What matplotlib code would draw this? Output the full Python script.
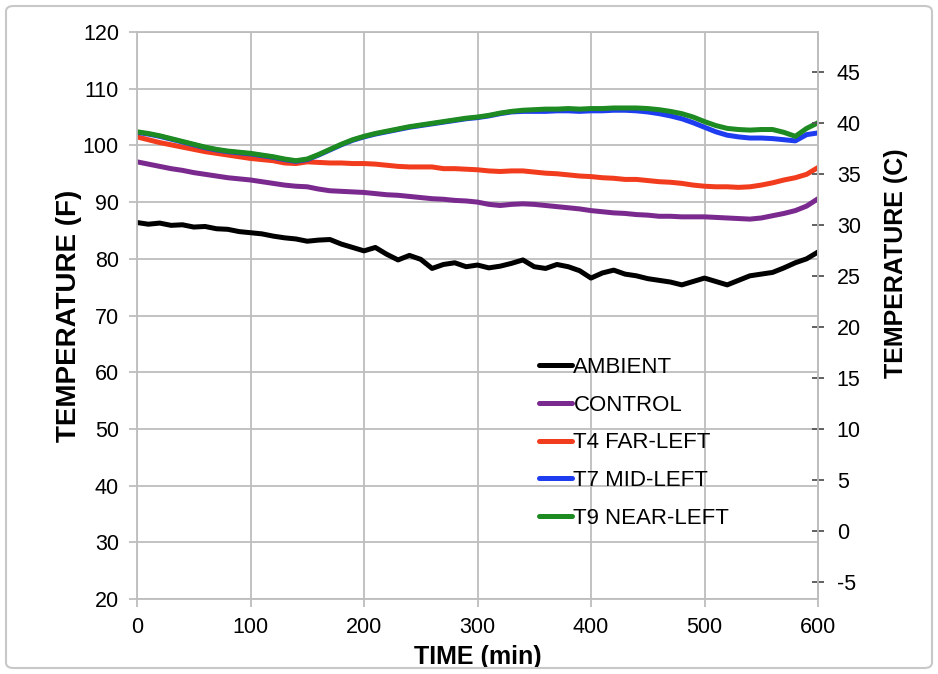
import numpy as np
import matplotlib.pyplot as plt
from matplotlib.patches import FancyBboxPatch

plt.rcParams['font.family'] = ['Liberation Sans', 'DejaVu Sans']
plt.rcParams['axes.unicode_minus'] = False

# time axis, every 10 minutes
time_min = list(range(0, 601, 10))

ambient = [86.4, 86.1, 86.3, 85.9, 86.0, 85.6, 85.7, 85.3, 85.2, 84.8,
           84.6, 84.4, 84.0, 83.7, 83.5, 83.1, 83.3, 83.4, 82.6, 82.0,
           81.4, 82.0, 80.8, 79.8, 80.6, 79.9, 78.3, 79.0, 79.3, 78.6,
           78.9, 78.4, 78.7, 79.2, 79.8, 78.6, 78.3, 79.0, 78.6, 77.9,
           76.6, 77.5, 78.0, 77.3, 77.0, 76.5, 76.2, 75.9, 75.4, 76.0,
           76.6, 76.0, 75.4, 76.2, 77.0, 77.3, 77.6, 78.4, 79.3, 80.0,
           81.2]

control = [97.1, 96.7, 96.3, 95.9, 95.6, 95.2, 94.9, 94.6, 94.3, 94.1,
           93.9, 93.6, 93.3, 93.0, 92.8, 92.7, 92.3, 92.0, 91.9, 91.8,
           91.7, 91.5, 91.3, 91.2, 91.0, 90.8, 90.6, 90.5, 90.3, 90.2,
           90.0, 89.6, 89.4, 89.6, 89.7, 89.6, 89.4, 89.2, 89.0, 88.8,
           88.5, 88.3, 88.1, 88.0, 87.8, 87.7, 87.5, 87.5, 87.4, 87.4,
           87.4, 87.3, 87.2, 87.1, 87.0, 87.2, 87.6, 88.0, 88.5, 89.3,
           90.6]

t4_far_left = [101.5, 101.0, 100.5, 100.1, 99.7, 99.3, 98.9, 98.6, 98.3, 98.0,
               97.7, 97.5, 97.3, 96.9, 96.8, 97.1, 97.0, 96.9, 96.9, 96.8,
               96.8, 96.7, 96.5, 96.3, 96.2, 96.2, 96.2, 95.9, 95.9, 95.8,
               95.7, 95.5, 95.4, 95.5, 95.5, 95.3, 95.1, 95.0, 94.8, 94.6,
               94.5, 94.3, 94.2, 94.0, 94.0, 93.8, 93.6, 93.5, 93.3, 93.0,
               92.8, 92.7, 92.7, 92.6, 92.7, 93.0, 93.4, 93.9, 94.3, 94.9,
               96.1]

t7_mid_left = [102.3, 102.0, 101.6, 101.1, 100.6, 100.1, 99.6, 99.2, 98.9, 98.7,
               98.5, 98.2, 97.9, 97.5, 97.2, 97.5, 98.3, 99.2, 100.1, 100.9,
               101.5, 102.0, 102.4, 102.8, 103.2, 103.5, 103.8, 104.1, 104.4, 104.7,
               104.9, 105.2, 105.6, 105.9, 106.0, 106.0, 106.0, 106.1, 106.1, 106.0,
               106.1, 106.1, 106.2, 106.2, 106.1, 105.9, 105.6, 105.2, 104.7, 104.0,
               103.2, 102.4, 101.8, 101.5, 101.3, 101.3, 101.2, 101.0, 100.8, 101.9,
               102.2]

t9_near_left = [102.4, 102.1, 101.7, 101.2, 100.7, 100.2, 99.7, 99.3, 99.0, 98.8,
                98.6, 98.3, 98.0, 97.6, 97.3, 97.6, 98.4, 99.3, 100.2, 101.0,
                101.6, 102.1, 102.5, 102.9, 103.3, 103.6, 103.9, 104.2, 104.5, 104.8,
                105.0, 105.3, 105.7, 106.0, 106.2, 106.3, 106.4, 106.4, 106.5, 106.4,
                106.5, 106.5, 106.6, 106.6, 106.6, 106.5, 106.3, 106.0, 105.6, 105.0,
                104.2, 103.5, 103.0, 102.8, 102.7, 102.8, 102.8, 102.3, 101.6, 103.0,
                104.0]

series = [
    ("AMBIENT", ambient, "#000000"),
    ("CONTROL", control, "#7a2a8e"),
    ("T4 FAR-LEFT", t4_far_left, "#f23c1e"),
    ("T7 MID-LEFT", t7_mid_left, "#1f3df0"),
    ("T9 NEAR-LEFT", t9_near_left, "#1e8a22"),
]

grid_col = "#bdbdbd"

fig = plt.figure(figsize=(9.38, 6.74), dpi=100)
ax = fig.add_axes([137 / 938, 1 - 599 / 674, (818 - 137) / 938, (599 - 32) / 674])

for name, vals, col in series:
    ax.plot(time_min, vals, color=col, lw=3.6, label=name, solid_capstyle="round")

ax.set_xlim(0, 600)
ax.set_ylim(20, 120)
ax.set_xticks(range(0, 601, 100))
ax.set_yticks(range(20, 121, 10))
ax.grid(True, color=grid_col, lw=1.3)
for s in ax.spines.values():
    s.set_color(grid_col)
    s.set_linewidth(1.3)
ax.tick_params(axis="both", labelsize=15.5, color=grid_col, width=1.3, length=6, pad=7)
ax.set_xlabel("TIME (min)", fontsize=18, fontweight="bold", labelpad=5)
ax.set_ylabel("TEMPERATURE (F)", fontsize=20, fontweight="bold")
ax.yaxis.set_label_coords(-55 / 681, 0.5)

# right axis in Celsius
ax2 = ax.twinx()
ax2.set_ylim((20 - 32) / 1.8, (120 - 32) / 1.8)
ax2.set_yticks(range(-5, 46, 5))
for side in ["top", "bottom", "left"]:
    ax2.spines[side].set_visible(False)
ax2.spines["right"].set_color(grid_col)
ax2.spines["right"].set_linewidth(1.3)
ax2.tick_params(axis="y", direction="inout", length=9, width=1.3, color="#555555",
                labelsize=15.5, pad=9)
ax2.set_ylabel("TEMPERATURE (C)", fontsize=18, fontweight="bold")
ax2.yaxis.set_label_coords(1 + 66 / 681, 1 - (263 - 32) / 567)

leg = ax.legend(loc="upper left", bbox_to_anchor=(539 / 938, 1 - 357 / 674),
                bbox_transform=fig.transFigure, frameon=False, fontsize=16,
                handlelength=1.5, handletextpad=0.05, labelspacing=0.75,
                borderpad=0, borderaxespad=0)
for h in leg.get_lines():
    h.set_linewidth(3.6)

fig.patches.append(FancyBboxPatch((6 / 938, 6 / 674), 926 / 938, 662 / 674,
                                  boxstyle="round,pad=0,rounding_size=0.008",
                                  transform=fig.transFigure, fc="none",
                                  ec="#c8c8c8", lw=1.5))

fig.savefig("out.png", dpi=100)
